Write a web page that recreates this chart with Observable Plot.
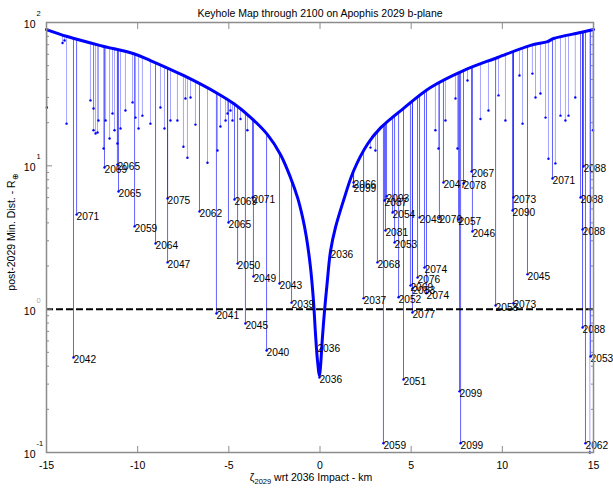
<!DOCTYPE html>
<html><head><meta charset="utf-8">
<script src="https://cdn.jsdelivr.net/npm/d3@7"></script>
<script src="https://cdn.jsdelivr.net/npm/@observablehq/plot@0.6"></script>
<style>body{margin:0;background:#fff} svg{display:block}</style>
</head><body><div id="chart"></div>
<script>
const title = "Keyhole Map through 2100 on Apophis 2029 b-plane";

// Envelope curve (zeta in km, min distance in Earth radii)
const curveZeta = [-15,-13.86,-12.04,-10.21,-9.30,-7.49,-5.62,-4.70,-3.81,-2.88,-2.17,-1.62,-1.23,-0.96,-0.75,-0.52,-0.36,-0.25,-0.14,-0.03,0.03,0.12,0.25,0.39,0.58,0.85,1.29,1.84,2.61,3.32,4.6,6.06,7.87,9.74,11.55,12.48,12.81,14.29,15];
const curveDist = [89.3,79.8,69,60.5,54.3,42.7,32,27,21.8,16.5,12.0,8.3,6.0,4.4,3.2,1.95,1.15,0.68,0.44,0.344,0.40,0.60,0.98,1.51,2.56,3.72,5.73,9.2,14.2,18.4,25.3,35.2,46.2,57,69.2,73.6,77.3,85.1,89.3];

// Labelled keyholes
const keyZeta = [-13.52,-13.35,-11.82,-11.11,-11.05,-10.17,-9.02,-8.36,-8.36,-6.61,
  -5.02,-4.69,-3.70,-4.52,-3.65,-2.22,-1.56,-5.68,-4.09,-2.93,
  0.58,-0.14,-0.03,1.84,1.84,6.77,8.31,7.87,3.65,3.54,
  3.98,5.46,6.55,7.60,8.36,3.59,4.09,3.15,5.73,5.35,
  4.96,5.07,5.84,2.39,4.31,5.07,10.61,10.56,12.75,14.45,
  14.29,14.40,11.38,9.63,10.61,14.40,14.84,14.56,7.65,7.71,
  3.48,4.58];
const keyDist = [0.46,4.57,9.73,10.2,6.62,3.78,2.87,2.12,5.92,4.80,
  4.02,5.82,6.01,2.08,1.69,1.51,1.11,0.933,0.794,0.515,
  2.48,0.549,0.334,7.65,7.17,7.65,9.12,7.53,6.11,5.73,
  4.72,4.36,4.36,4.22,3.48,3.54,2.92,2.12,1.95,1.66,
  1.46,1.39,1.29,1.19,1.21,0.948,6.01,4.88,8.16,9.89,
  6.01,3.60,1.75,1.06,1.10,0.745,0.468,0.116,0.267,0.116,
  0.116,0.323];
const keyYear = ["2042","2071","2069","2065","2065","2059","2064","2047","2075","2062",
  "2065","2069","2071","2050","2049","2043","2039","2041","2045","2040",
  "2036","2036","2036","2066","2099","2047","2067","2078","2093","2087",
  "2054","2049","2070","2057","2046","2081","2053","2068","2074","2076",
  "2069","2083","2074","2037","2052","2077","2073","2090","2071","2088",
  "2088","2088","2045","2058","2073","2088","2053","2062","2099","2099",
  "2059","2051"];

// Unlabelled keyhole spikes
const spikeZeta = [-14.98,-14.12,-14.01,-13.90,-12.59,-12.42,-12.42,-12.31,-12.20,-12.15,
  -11.87,-11.76,-11.54,-11.38,-11.27,-11.11,-10.94,-10.67,-10.28,-10.12,
  -9.95,-9.74,-9.30,-8.75,-8.53,-8.20,-7.82,-7.49,-7.38,-7.27,
  -7.10,-6.83,-6.17,-5.62,-5.46,-5.18,-5.07,-4.91,-4.80,-4.36,
  -3.98,2.77,3.04,3.87,6.33,6.50,6.88,7.43,7.54,8.09,
  8.80,9.24,9.79,10.17,10.94,11.11,11.65,11.82,12.09,12.37,
  12.53,12.91,13.19,13.46,13.63,14.00,14.80,14.97];
const spikeDist = [25.5,72,74.8,19.7,28.6,25.1,17.7,16.8,17.1,20.7,
  13.2,20.7,15.5,23.2,17.7,14.3,18.2,24.3,27.7,21.7,
  18.2,22.4,19.7,25.5,18.2,20.7,20.7,13.6,29.5,11.4,
  30,19.4,10.5,12.8,18.8,20.7,23.2,24.3,20.7,21.2,
  17.7,13.4,12.8,22.4,17.7,13.2,20.7,29.5,13.2,39.4,
  21.2,24.3,31,20.7,42.7,19.7,44,30,32,21.7,
  11.2,10.4,22.4,20.7,22.4,30,0.1,17.7];

const xTicks = [-15,-10,-5,0,5,10,15];
const yMajor = [0.1,1,10,100];
const yExp = ["-1","0","1","2"];
const yMinor = [0.2,0.3,0.4,0.5,0.6,0.7,0.8,0.9,2,3,4,5,6,7,8,9,20,30,40,50,60,70,80,90];
const threshold = [1];

const curve = curveZeta.map((z,i)=>({z, d: curveDist[i]}));
const keys = keyZeta.map((z,i)=>({z, d: keyDist[i], year: keyYear[i]}));
const spikes = spikeZeta.map((z,i)=>({z, d: spikeDist[i]}));
const expo = yMajor.map((v,i)=>({v, e: yExp[i]}));
const yTop = 100;
const axisColor = "#8c8c8c";

const plot = Plot.plot({
  width: 613, height: 488,
  marginLeft: 46, marginRight: 20, marginTop: 22, marginBottom: 36,
  style: {fontFamily: "'Liberation Sans', Arial, sans-serif", fontSize: "10.5px", background: "white", color: "black"},
  x: {domain: [-15, 15]},
  y: {type: "log", domain: [0.1, 100]},
  marks: [
    Plot.ruleX(spikes, {x: "z", y1: yTop, y2: "d", stroke: "#3a3aff", strokeOpacity: 0.45, strokeWidth: 1}),
    Plot.ruleX(keys, {x: "z", y1: yTop, y2: "d", stroke: "#2020ff", strokeOpacity: 0.7, strokeWidth: 1}),
    Plot.dot(spikes, {x: "z", y: "d", r: 1.2, fill: "blue"}),
    Plot.dot(keys, {x: "z", y: "d", r: 1.2, fill: "blue"}),
    Plot.areaY(curve, {x: "z", y1: "d", y2: yTop, fill: "white", curve: "catmull-rom"}),
    Plot.line(curve, {x: "z", y: "d", stroke: "#0000ff", strokeWidth: 3, curve: "catmull-rom"}),
    Plot.ruleY(threshold, {stroke: "black", strokeWidth: 2, strokeDasharray: "7,3"}),
    Plot.text(keys, {x: "z", y: "d", text: "year", textAnchor: "start", dx: 0, dy: 2, fontSize: 10.2, fill: "black"}),
    Plot.axisX({ticks: xTicks, tickSize: 0, tickPadding: 9, tickFormat: d => String(d), label: null}),
    Plot.axisX({anchor: "bottom", ticks: xTicks, tickSize: -6, tickFormat: () => "", stroke: axisColor, label: null}),
    Plot.axisX({anchor: "top", ticks: xTicks, tickSize: -6, tickFormat: () => "", stroke: axisColor, label: null}),
    Plot.axisY({anchor: "left", ticks: yMajor, tickSize: -6, tickFormat: () => "", stroke: axisColor, label: null}),
    Plot.axisY({anchor: "left", ticks: yMinor, tickSize: -3, tickFormat: () => "", stroke: axisColor, label: null}),
    Plot.axisY({anchor: "right", ticks: yMajor, tickSize: -6, tickFormat: () => "", stroke: axisColor, label: null}),
    Plot.axisY({anchor: "right", ticks: yMinor, tickSize: -3, tickFormat: () => "", stroke: axisColor, label: null}),
    Plot.text(yMajor, {y: d => d, frameAnchor: "left", dx: -11, dy: 2, textAnchor: "end", text: () => "10", fill: "black"}),
    Plot.text(expo.filter(d => d.v !== 1), {y: "v", frameAnchor: "left", dx: -10, dy: -9, textAnchor: "start", text: "e", fontSize: 7.5, fill: "black"}),
    Plot.text(expo.filter(d => d.v === 1), {y: "v", frameAnchor: "left", dx: -10, dy: -9, textAnchor: "start", text: "e", fontSize: 7.5, fill: "#aaaaaa"}),
    Plot.frame({stroke: axisColor, strokeWidth: 1.5}),
    Plot.text([title], {frameAnchor: "top", dy: -13, text: d => d, fill: "black"})
  ]
});

const svg = d3.select(plot);
const xl = svg.append("text").attr("x", 311).attr("y", 481).attr("text-anchor", "middle")
  .attr("font-size", 10.5).attr("fill", "black");
xl.append("tspan").text("ζ");
xl.append("tspan").attr("font-size", 7.5).attr("dy", 3).text("2029");
xl.append("tspan").attr("dy", -3).text(" wrt 2036 Impact - km");

const yl = svg.append("text").attr("transform", "translate(15,232) rotate(-90)").attr("text-anchor", "middle")
  .attr("font-size", 10.5).attr("fill", "black");
yl.append("tspan").text("post-2029 Min. Dist. - R");
yl.append("tspan").attr("font-size", 7.5).attr("dy", 3).text("⊕");

document.getElementById("chart").appendChild(plot);
</script>
</body></html>
